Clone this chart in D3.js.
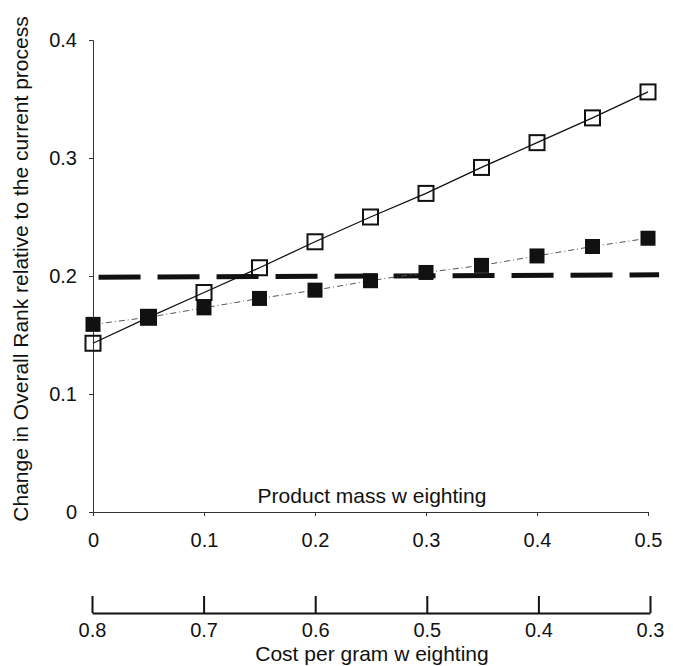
<!DOCTYPE html>
<html lang="en">
<head>
  <meta charset="UTF-8">
  <title>Overall rank change</title>
  <script src="https://cdn.jsdelivr.net/npm/d3@7"></script>
  <style>
    body { margin: 0; background: #fff; }
    text { font-family: 'Liberation Sans', Arial, sans-serif; fill: #111; }
    .axis path, .axis line { fill: none; stroke: #333; stroke-width: 1px; }
    .axis text { font-size: 20px; }
    .axis2 path, .axis2 line { fill: none; stroke: #111; stroke-width: 2px; }
    .axis2 text { font-size: 20px; }
  </style>
</head>
<body>
<script>
  // product mass weighting (x) and the two series
  const massWeight = [0, 0.05, 0.1, 0.15, 0.2, 0.25, 0.3, 0.35, 0.4, 0.45, 0.5];
  const openSeries = [0.143, 0.165, 0.186, 0.207, 0.229, 0.250, 0.270, 0.292, 0.313, 0.334, 0.356];
  const filledSeries = [0.159, 0.165, 0.173, 0.181, 0.188, 0.196, 0.203, 0.209, 0.217, 0.225, 0.232];
  const thresholdX = [0.005, 0.51];
  const thresholdY = [0.199, 0.201];
  const yTicks = [0, 0.1, 0.2, 0.3, 0.4];
  const massTicks = [0, 0.1, 0.2, 0.3, 0.4, 0.5];
  const costTicks = [0.8, 0.7, 0.6, 0.5, 0.4, 0.3];

  const width = 673, height = 666;
  const svg = d3.select('body').append('svg')
    .attr('width', width)
    .attr('height', height);

  const x = d3.scaleLinear().domain([0, 0.5]).range([93, 648]);
  const y = d3.scaleLinear().domain([0, 0.4]).range([512, 40]);
  const xCost = d3.scaleLinear().domain([0.8, 0.3]).range([92, 650]);
  const fmt = d => d === 0 ? '0' : d3.format('.1f')(d);

  // y axis
  svg.append('g')
    .attr('class', 'axis')
    .attr('transform', 'translate(93,0)')
    .call(d3.axisLeft(y).tickValues(yTicks).tickSize(4).tickPadding(12).tickFormat(fmt));

  // upper x axis (product mass)
  svg.append('g')
    .attr('class', 'axis')
    .attr('transform', 'translate(0,512)')
    .call(d3.axisBottom(x).tickValues(massTicks).tickSize(4).tickPadding(17).tickFormat(fmt));

  // lower x axis (cost per gram), ticks point up
  const g2 = svg.append('g')
    .attr('class', 'axis2')
    .attr('transform', 'translate(0,613)')
    .call(d3.axisBottom(xCost).tickValues(costTicks).tickSizeOuter(0).tickSize(0).tickPadding(10)
      .tickFormat(d3.format('.1f')));
  g2.selectAll('.tick').append('line')
    .attr('y1', 0).attr('y2', -17)
    .attr('stroke', '#111').attr('stroke-width', 2);

  // titles
  svg.append('text')
    .attr('x', 372).attr('y', 503)
    .attr('text-anchor', 'middle').style('font-size', '21px')
    .text('Product mass w eighting');
  svg.append('text')
    .attr('x', 372).attr('y', 661)
    .attr('text-anchor', 'middle').style('font-size', '21px')
    .text('Cost per gram w eighting');
  svg.append('text')
    .attr('transform', 'translate(28,269) rotate(-90)')
    .attr('text-anchor', 'middle').style('font-size', '21px')
    .text('Change in Overall Rank relative to the current process');

  // dashed reference line
  const line = d3.line().x(d => x(d[0])).y(d => y(d[1]));
  svg.append('path')
    .datum(d3.zip(thresholdX, thresholdY))
    .attr('d', line)
    .attr('fill', 'none').attr('stroke', '#111')
    .attr('stroke-width', 5).attr('stroke-dasharray', '42,17');

  const openPts = d3.zip(massWeight, openSeries);
  const filledPts = d3.zip(massWeight, filledSeries);
  const s = 15;

  svg.append('path').datum(filledPts).attr('d', line)
    .attr('fill', 'none').attr('stroke', '#555').attr('stroke-width', 1)
    .attr('stroke-dasharray', '6,3,1,3');
  svg.append('path').datum(openPts).attr('d', line)
    .attr('fill', 'none').attr('stroke', '#111').attr('stroke-width', 1.3);

  svg.selectAll('.open').data(openPts).enter().append('rect')
    .attr('class', 'open')
    .attr('x', d => x(d[0]) - s / 2).attr('y', d => y(d[1]) - s / 2)
    .attr('width', s).attr('height', s)
    .attr('fill', 'none').attr('stroke', '#111').attr('stroke-width', 2);

  svg.selectAll('.filled').data(filledPts).enter().append('rect')
    .attr('class', 'filled')
    .attr('x', d => x(d[0]) - s / 2).attr('y', d => y(d[1]) - s / 2)
    .attr('width', s).attr('height', s)
    .attr('fill', '#111');
</script>
</body>
</html>
